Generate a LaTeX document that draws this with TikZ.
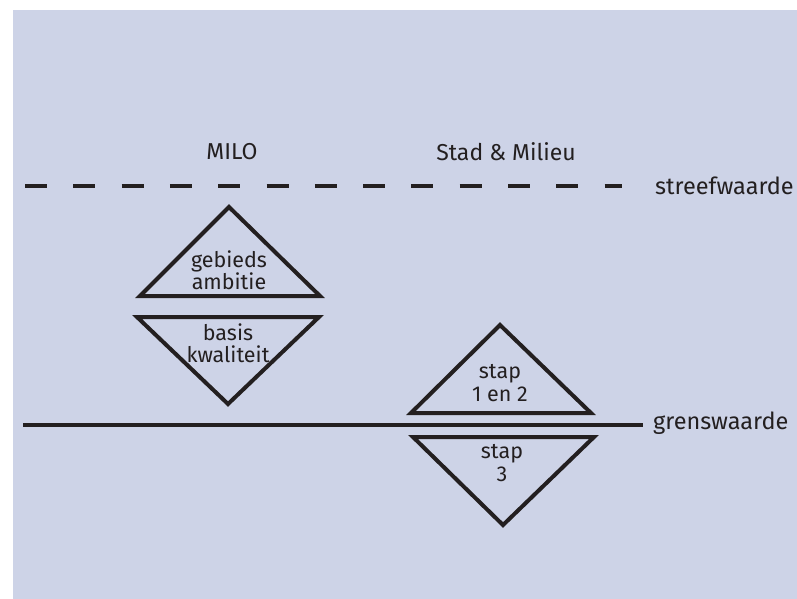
\documentclass[tikz,border=0pt]{standalone}
\usepackage{fontspec}
\setmainfont{Fira Sans}
\definecolor{bg}{HTML}{CDD3E7}
\definecolor{ink}{HTML}{231F20}
\begin{document}
\begin{tikzpicture}[x=1pt,y=-1pt,
  tri/.style={draw=ink,line width=4pt,line join=miter},
  lbl/.style={text=ink,font=\fontsize{21.5}{22.5}\selectfont,inner sep=0pt,align=center},
  head/.style={text=ink,font=\fontsize{23}{24}\selectfont,inner sep=0pt},
  side/.style={text=ink,font=\fontsize{23.5}{24}\selectfont,inner sep=0pt,anchor=west},
  lineh/.style={draw=ink,line width=3.5pt}]
\useasboundingbox (0,0) rectangle (797,599);
\fill[bg] (13,10) rectangle (797,599);
% lines
\coordinate (d1) at (25,186);
\coordinate (d2) at (622,186);
\draw[lineh,dash pattern=on 22pt off 26.3pt] (d1) -- (d2);
\coordinate (s1) at (23,425);
\coordinate (s2) at (643,425);
\draw[lineh] (s1) -- (s2);
% headers
\node[head] (milo) at (232,152) {MILO};
\node[head] (stad) at (506,152) {Stad \& Milieu};
\node[side] (streef) at (655,186) {streefwaarde};
\node[side] (grens) at (653,423) {grenswaarde};
% triangles
\draw[tri] (229,207) -- (320,296) -- (140,296) -- cycle;
\draw[tri] (137,317) -- (319,317) -- (228,404) -- cycle;
\draw[tri] (500,325) -- (591,413) -- (411,413) -- cycle;
\draw[tri] (413,437) -- (594,437) -- (503,525) -- cycle;
% texts
\node[lbl] (t1) at (229,270) {gebieds\\ambitie};
\node[lbl] (t2) at (228,343) {basis\\kwaliteit};
\node[lbl] (t3) at (500,383) {stap\\1 en 2};
\node[lbl] (t4) at (502,463) {stap\\3};
\end{tikzpicture}
\end{document}
